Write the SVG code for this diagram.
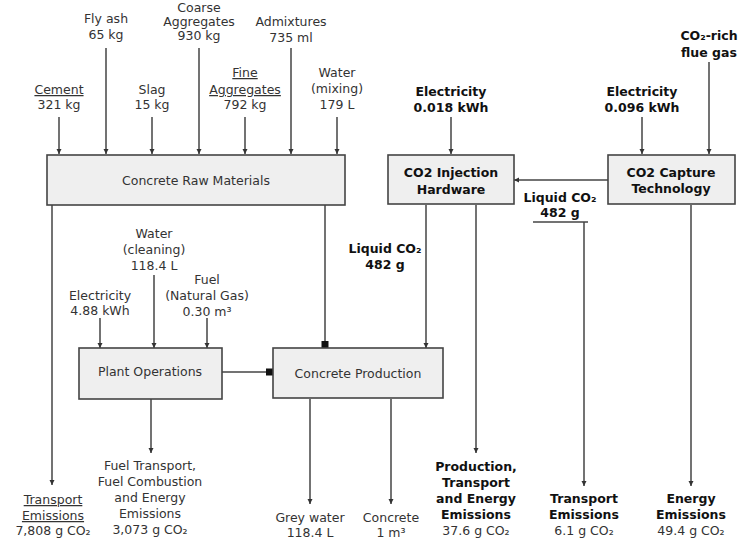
<svg xmlns="http://www.w3.org/2000/svg" width="750" height="541" viewBox="0 0 750 541">
<defs>
<marker id="arr" markerUnits="userSpaceOnUse" markerWidth="6" markerHeight="6" refX="5" refY="3" orient="auto"><path d="M0,0.5 L5,3 L0,5.5 z" fill="#333"/></marker>
<marker id="sq" markerUnits="userSpaceOnUse" markerWidth="8" markerHeight="8" refX="7" refY="4" orient="auto"><rect x="0" y="0.5" width="7" height="7" fill="#111"/></marker>
<style>
text{font-family:"DejaVu Sans","Verdana",sans-serif;font-size:12.5px;fill:#333;text-anchor:middle}
.b{font-weight:bold;fill:#111}
.u{text-decoration:underline}
.box{fill:#efefef;stroke:#444;stroke-width:1.6}
.c line{stroke:#444;stroke-width:1.5;fill:none}
.a{marker-end:url(#arr)}
.s{marker-end:url(#sq)}
</style>
</defs>
<rect width="750" height="541" fill="#fff"/>

<g class="c" id="connectors">
<line class="a" x1="59" y1="117" x2="59" y2="154"/>
<line class="a" x1="106" y1="48" x2="106" y2="154"/>
<line class="a" x1="152" y1="117" x2="152" y2="154"/>
<line class="a" x1="199" y1="48" x2="199" y2="154"/>
<line class="a" x1="245" y1="117" x2="245" y2="154"/>
<line class="a" x1="291" y1="48" x2="291" y2="154"/>
<line class="a" x1="337" y1="117" x2="337" y2="154"/>
<line class="a" x1="52" y1="205" x2="52" y2="485"/>
<line class="s" x1="325" y1="205" x2="325" y2="348"/>
<line class="a" x1="100" y1="318" x2="100" y2="348"/>
<line class="a" x1="154" y1="275" x2="154" y2="348"/>
<line class="a" x1="207" y1="318" x2="207" y2="348"/>
<line class="s" x1="222" y1="372" x2="273" y2="372"/>
<line class="a" x1="151" y1="399" x2="151" y2="453"/>
<line class="a" x1="310" y1="399" x2="310" y2="504"/>
<line class="a" x1="391" y1="399" x2="391" y2="504"/>
<line class="a" x1="426" y1="205" x2="426" y2="348"/>
<line class="a" x1="476" y1="205" x2="476" y2="453"/>
<line class="a" x1="451" y1="117" x2="451" y2="154"/>
<line class="a" x1="642" y1="117" x2="642" y2="154"/>
<line class="a" x1="709" y1="62" x2="709" y2="154"/>
<line class="a" x1="608" y1="180" x2="514" y2="180"/>
<line x1="533" y1="222" x2="588" y2="222"/>
<line class="a" x1="584" y1="222" x2="584" y2="486"/>
<line class="a" x1="691" y1="205" x2="691" y2="486"/>
</g>

<g id="raw-materials"><rect class="box" x="47" y="155" width="298" height="50"/><text x="196" y="185">Concrete Raw Materials</text></g>
<g id="plant-operations"><rect class="box" x="79" y="348" width="143" height="51"/><text x="150" y="376">Plant Operations</text></g>
<g id="concrete-production"><rect class="box" x="273" y="348" width="170" height="50"/><text x="358" y="378">Concrete Production</text></g>
<g id="co2-injection"><rect class="box" x="388" y="155" width="126" height="49"/><text class="b" x="451" y="177">CO2 Injection</text><text class="b" x="451" y="194">Hardware</text></g>
<g id="co2-capture"><rect class="box" x="608" y="155" width="127" height="49"/><text class="b" x="671" y="177">CO2 Capture</text><text class="b" x="671" y="193">Technology</text></g>

<g id="in-cement"><text class="u" x="59" y="94">Cement</text><text x="59" y="109">321 kg</text></g>
<g id="in-flyash"><text x="106" y="23">Fly ash</text><text x="106" y="39">65 kg</text></g>
<g id="in-slag"><text x="152" y="94">Slag</text><text x="152" y="109">15 kg</text></g>
<g id="in-coarse"><text x="199" y="12">Coarse</text><text x="199" y="25.5">Aggregates</text><text x="199" y="40">930 kg</text></g>
<g id="in-fine"><text class="u" x="245" y="77">Fine</text><text class="u" x="245" y="94">Aggregates</text><text x="245" y="109">792 kg</text></g>
<g id="in-admix"><text x="291" y="26">Admixtures</text><text x="291" y="42">735 ml</text></g>
<g id="in-water"><text x="337" y="77">Water</text><text x="337" y="93">(mixing)</text><text x="337" y="109">179 L</text></g>

<g id="in-elec-plant"><text x="100" y="300">Electricity</text><text x="100" y="315">4.88 kWh</text></g>
<g id="in-water-clean"><text x="154" y="238">Water</text><text x="154" y="254">(cleaning)</text><text x="154" y="270">118.4 L</text></g>
<g id="in-fuel"><text x="207" y="284">Fuel</text><text x="207" y="300">(Natural Gas)</text><text x="207" y="316">0.30 m³</text></g>

<g id="liquid-co2-a"><text class="b" x="385" y="253">Liquid CO₂</text><text class="b" x="385" y="269">482 g</text></g>
<g id="liquid-co2-b"><text class="b" x="560" y="202">Liquid CO₂</text><text class="b" x="560" y="217">482 g</text></g>
<g id="in-elec-inj"><text class="b" x="451" y="96">Electricity</text><text class="b" x="451" y="112">0.018 kWh</text></g>
<g id="in-elec-cap"><text class="b" x="642" y="96">Electricity</text><text class="b" x="642" y="112">0.096 kWh</text></g>
<g id="in-flue"><text class="b" x="709" y="40">CO₂-rich</text><text class="b" x="709" y="57">flue gas</text></g>

<g id="out-transport"><text class="u" x="53" y="504">Transport</text><text class="u" x="53" y="520">Emissions</text><text x="53" y="535">7,808 g CO₂</text></g>
<g id="out-fuel"><text x="150" y="470">Fuel Transport,</text><text x="150" y="486">Fuel Combustion</text><text x="150" y="502">and Energy</text><text x="150" y="518">Emissions</text><text x="150" y="534">3,073 g CO₂</text></g>
<g id="out-grey"><text x="310" y="522">Grey water</text><text x="310" y="537">118.4 L</text></g>
<g id="out-concrete"><text x="391" y="522">Concrete</text><text x="391" y="537">1 m³</text></g>
<g id="out-prod"><text class="b" x="476" y="471">Production,</text><text class="b" x="476" y="487">Transport</text><text class="b" x="476" y="503">and Energy</text><text class="b" x="476" y="519">Emissions</text><text x="476" y="535">37.6 g CO₂</text></g>
<g id="out-transport2"><text class="b" x="584" y="503">Transport</text><text class="b" x="584" y="519">Emissions</text><text x="584" y="535">6.1 g CO₂</text></g>
<g id="out-energy"><text class="b" x="691" y="503">Energy</text><text class="b" x="691" y="519">Emissions</text><text x="691" y="535">49.4 g CO₂</text></g>
</svg>
